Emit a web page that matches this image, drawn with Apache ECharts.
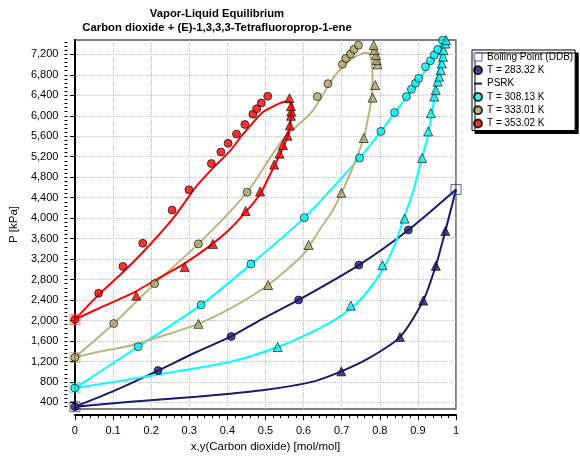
<!DOCTYPE html>
<html>
<head>
<meta charset="utf-8">
<script src="https://cdn.jsdelivr.net/npm/echarts@6/dist/echarts.min.js"></script>
<style>
html, body { margin: 0; padding: 0; background: #fff }
#chart { width: 580px; height: 458px }
</style>
</head>
<body>
<div id="chart"></div>
<script>
// tick labels
const yTicks = [400, 800, 1200, 1600, 2000, 2400, 2800, 3200, 3600, 4000, 4400, 4800, 5200, 5600, 6000, 6400, 6800, 7200]
const yMinorTicks = []
for (let v = 320; v <= 7440; v += 80) yMinorTicks.push(v)

// pure component boiling points [x, P kPa]
const boilingPoints = [[0, 316], [0, 680], [0, 1280], [0, 2020], [1, 4560]]

// T = 283.32 K
const t283Liquid = [[0, 316], [0.218, 1022], [0.410, 1689], [0.587, 2402], [0.745, 3083], [0.875, 3769]]
const t283Vapor = [[0.699, 1008], [0.853, 1677], [0.914, 2389], [0.947, 3069], [0.972, 3750]]
const t283Psrk = [[0, 316], [0.104, 630], [0.218, 1022], [0.319, 1386], [0.410, 1689], [0.492, 2033], [0.587, 2402],
  [0.745, 3083], [0.875, 3769], [1, 4560], [0.972, 3750], [0.947, 3069], [0.914, 2389], [0.853, 1677], [0.769, 1255],
  [0.699, 1008], [0.622, 802], [0.492, 639], [0.319, 511], [0.147, 413], [0, 316]]

// T = 308.13 K
const t308Liquid = [[0, 680], [0.166, 1489], [0.331, 2305], [0.462, 3102], [0.602, 4010], [0.747, 5176], [0.803, 5694],
  [0.839, 6063], [0.870, 6374], [0.883, 6518], [0.894, 6634], [0.902, 6731], [0.920, 6957], [0.933, 7074],
  [0.943, 7185], [0.952, 7295], [0.965, 7476]]
const t308Vapor = [[0.532, 1483], [0.724, 2291], [0.807, 3083], [0.865, 3991], [0.911, 5176], [0.927, 5694], [0.934, 6051],
  [0.943, 6374], [0.947, 6504], [0.952, 6666], [0.956, 6763], [0.960, 6893], [0.963, 7023], [0.966, 7152],
  [0.967, 7282], [0.972, 7411], [0.974, 7476]]
const t308Psrk = [[0, 680], [0.166, 1489], [0.331, 2305], [0.462, 3102], [0.602, 4010], [0.747, 5176], [0.803, 5694],
  [0.839, 6063], [0.872, 6374], [0.915, 6829], [0.965, 7440], [0.950, 6699], [0.937, 6051], [0.924, 5532],
  [0.907, 5079], [0.889, 4560], [0.865, 4041], [0.838, 3458], [0.803, 2941], [0.751, 2422], [0.699, 2097],
  [0.639, 1839], [0.532, 1483], [0.406, 1191], [0.233, 964], [0.104, 802], [0, 680]]

// T = 333.01 K
const t333Liquid = [[0, 1280], [0.102, 1942], [0.209, 2719], [0.324, 3497], [0.452, 4507], [0.636, 6374], [0.664, 6627],
  [0.702, 7004], [0.711, 7121], [0.723, 7204], [0.732, 7295], [0.744, 7379]]
const t333Vapor = [[0.324, 1936], [0.507, 2694], [0.613, 3477], [0.699, 4496], [0.758, 5565], [0.781, 6355], [0.788, 6601],
  [0.794, 7004], [0.792, 7087], [0.790, 7185], [0.786, 7282], [0.784, 7379]]
const t333Psrk = [[0, 1280], [0.102, 1942], [0.209, 2719], [0.324, 3497], [0.452, 4507], [0.544, 5520], [0.622, 6082],
  [0.680, 6760], [0.717, 7054], [0.743, 7185], [0.767, 7229], [0.777, 7130], [0.781, 6699], [0.779, 6374],
  [0.770, 5985], [0.758, 5565], [0.734, 5079], [0.708, 4624], [0.678, 4171], [0.643, 3783], [0.600, 3300],
  [0.507, 2694], [0.406, 2227], [0.324, 1936], [0.233, 1708], [0.147, 1514], [0.060, 1386], [0, 1280]]

// T = 353.02 K
const t353Liquid = [[0, 2020], [0.062, 2533], [0.126, 3057], [0.178, 3510], [0.255, 4158], [0.299, 4554], [0.358, 5066],
  [0.383, 5293], [0.402, 5461], [0.424, 5643], [0.446, 5830], [0.467, 6031], [0.477, 6135], [0.489, 6251], [0.506, 6381]]
const t353Vapor = [[0.161, 2486], [0.288, 3044], [0.362, 3497], [0.448, 4139], [0.486, 4521], [0.523, 5046], [0.537, 5260],
  [0.546, 5429], [0.558, 5610], [0.564, 5810], [0.567, 5999], [0.568, 6082], [0.567, 6187], [0.563, 6343]]
const t353Psrk = [[0, 2020], [0.060, 2486], [0.130, 2972], [0.190, 3427], [0.259, 4010], [0.319, 4624], [0.363, 4982],
  [0.406, 5305], [0.440, 5630], [0.492, 6063], [0.522, 6190], [0.553, 6277], [0.566, 6260], [0.570, 6150],
  [0.568, 5985], [0.561, 5662], [0.544, 5338], [0.527, 5079], [0.510, 4819], [0.488, 4496], [0.458, 4204],
  [0.406, 3782], [0.354, 3458], [0.285, 3102], [0.216, 2811], [0.155, 2552], [0.078, 2291], [0, 2020]]

const font = "'Liberation Sans', Arial, sans-serif"
const navy = '#191970', cyan = '#00f0f0', khaki = '#aca067', red = '#ee0000'
const temps = [
  { name: 'T = 283.32 K', color: navy, line: navy, liq: t283Liquid, vap: t283Vapor, psrk: t283Psrk, psrkName: 'PSRK' },
  { name: 'T = 308.13 K', color: cyan, line: '#00ffff', liq: t308Liquid, vap: t308Vapor, psrk: t308Psrk, psrkName: 'PSRK 308' },
  { name: 'T = 333.01 K', color: khaki, line: '#bdb47e', liq: t333Liquid, vap: t333Vapor, psrk: t333Psrk, psrkName: 'PSRK 333' },
  { name: 'T = 353.02 K', color: red, line: '#ff0000', liq: t353Liquid, vap: t353Vapor, psrk: t353Psrk, psrkName: 'PSRK 353' },
]
const squareColors = ['#333399', '#55d0d0', '#b0a070', '#ff5050', '#333399']

const series = []
temps.forEach(t => {
  series.push({
    name: t.psrkName, type: 'line', data: t.psrk, symbol: 'none', smooth: 0.25, z: 2,
    lineStyle: { color: t.line, width: 2 }, itemStyle: { color: t.line },
  })
})
temps.forEach(t => {
  series.push({
    name: t.name, type: 'scatter', data: t.liq, symbol: 'circle', symbolSize: 8, z: 4, clip: false,
    itemStyle: { color: t.color, borderColor: '#000', borderWidth: 0.8 },
  })
  series.push({
    name: t.name + ' y', type: 'scatter', data: t.vap, symbol: 'triangle', symbolSize: 9, z: 4, clip: false,
    itemStyle: { color: t.color, borderColor: '#000', borderWidth: 0.8 },
  })
})
series.unshift({
  name: 'Boiling Point (DDB)', type: 'scatter', symbol: 'rect', symbolSize: 10, z: 3, clip: false,
  itemStyle: { color: 'rgba(255,255,255,0)', borderColor: '#333399', borderWidth: 1 },
  data: boilingPoints.map((p, i) => ({ value: p, itemStyle: { borderColor: squareColors[i] } })),
})

const chart = echarts.init(document.getElementById('chart'))
chart.setOption({
  animation: false,
  textStyle: { fontFamily: font },
  title: {
    text: 'Vapor-Liquid Equilibrium\nCarbon dioxide + (E)-1,3,3,3-Tetrafluoroprop-1-ene',
    left: 212, top: 2, textAlign: 'center',
    textStyle: { fontSize: 11.3, fontWeight: 'bold', lineHeight: 14, color: '#000', fontFamily: font },
  },
  legend: {
    orient: 'vertical', left: 472, top: 50, padding: [1, 2, 1, 1],
    itemWidth: 8, itemHeight: 8, itemGap: 1.3, itemTextGap: 10,
    backgroundColor: '#fff', borderColor: '#000', borderWidth: 1,
    shadowColor: '#000', shadowBlur: 0, shadowOffsetX: 3, shadowOffsetY: 3,
    selectedMode: false,
    textStyle: { fontSize: 10, color: '#000', lineHeight: 12, fontFamily: font },
    data: [
      { name: 'Boiling Point (DDB)', icon: 'rect', itemStyle: { color: '#fff', borderColor: '#333399', borderWidth: 1 } },
      { name: 'T = 283.32 K', icon: 'circle' },
      { name: 'PSRK', icon: 'path://M0,0L8,0L8,2L0,2Z', itemStyle: { color: navy, borderWidth: 0 } },
      { name: 'T = 308.13 K', icon: 'circle' },
      { name: 'T = 333.01 K', icon: 'circle' },
      { name: 'T = 353.02 K', icon: 'circle' },
    ],
  },
  grid: { left: 70, right: 124, top: 40, bottom: 47.5, show: true, borderColor: '#555', borderWidth: 1.5 },
  xAxis: {
    type: 'value', min: 0, max: 1, interval: 0.1, offset: 6,
    name: 'x,y(Carbon dioxide) [mol/mol]', nameLocation: 'middle', nameGap: 18,
    nameTextStyle: { fontSize: 11.5, color: '#000', fontFamily: font },
    axisLine: { lineStyle: { color: '#000', width: 2 } },
    axisTick: { length: 5, lineStyle: { color: '#000' } },
    minorTick: { show: true, splitNumber: 5, length: 3, lineStyle: { color: '#000' } },
    axisLabel: { fontSize: 11, color: '#000', margin: 10, formatter: v => String(+v.toFixed(1)) },
    splitLine: { lineStyle: { type: 'dotted', color: '#bbb' } },
  },
  yAxis: [{
    type: 'value', min: 270, max: 7480, offset: 7.5, position: 'left',
    name: 'P [kPa]', nameLocation: 'middle', nameGap: 36, nameRotate: 90,
    nameTextStyle: { fontSize: 11.5, color: '#000', fontFamily: font },
    axisLine: { show: true, lineStyle: { color: '#000', width: 2 } },
    axisTick: { length: 5, customValues: yTicks, lineStyle: { color: '#000' } },
    axisLabel: { fontSize: 11, color: '#000', margin: 9, customValues: yTicks, formatter: v => v.toLocaleString('en-US') },
    splitLine: { show: true, lineStyle: { type: 'dotted', color: '#bbb' } },
  }, {
    type: 'value', min: 270, max: 7480, offset: 7.5, position: 'left',
    axisLine: { show: false }, axisLabel: { show: false }, splitLine: { show: false },
    axisTick: { show: true, length: 3, customValues: yMinorTicks, lineStyle: { color: '#000' } },
  }],
  series,
})
</script>
</body>
</html>
